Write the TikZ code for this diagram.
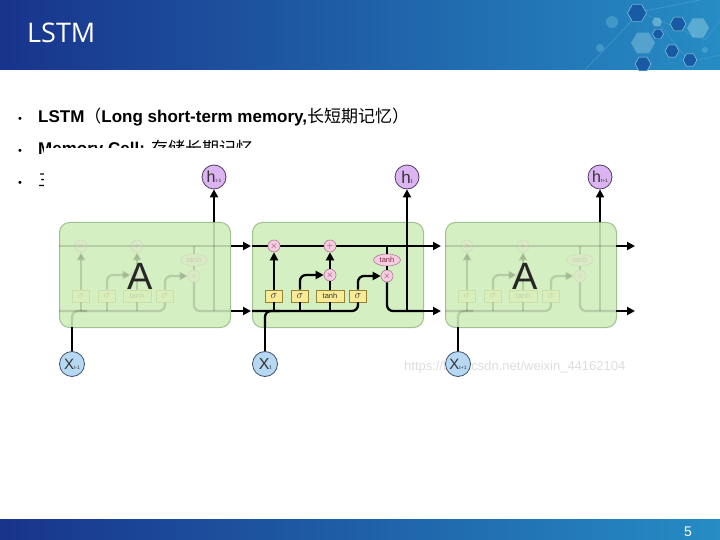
\documentclass[tikz,border=0pt]{standalone}
\usepackage{fontspec}
\setmainfont{Liberation Sans}
\newfontfamily\cjk{Noto Sans CJK SC}
\newfontfamily\titlefont{Open Sans}
\usetikzlibrary{arrows.meta,shapes.geometric}

\definecolor{hdrL}{RGB}{24,52,140}
\definecolor{hdrM}{RGB}{16,74,158}
\definecolor{hdrR}{RGB}{38,140,196}
\definecolor{cellfill}{RGB}{212,239,194}
\definecolor{cellbd}{RGB}{160,192,145}
\definecolor{gatefill}{RGB}{250,236,150}
\definecolor{gatebd}{RGB}{150,130,50}
\definecolor{opfill}{RGB}{245,205,225}
\definecolor{opbd}{RGB}{180,120,150}
\definecolor{opsym}{RGB}{140,40,70}
\definecolor{hfill}{RGB}{220,180,242}
\definecolor{hbd}{RGB}{80,60,95}
\definecolor{xfill}{RGB}{182,216,242}
\definecolor{xbd}{RGB}{60,80,105}
\definecolor{wm}{RGB}{222,222,222}
\definecolor{hexlite}{RGB}{120,200,220}
\definecolor{hexdark}{RGB}{25,90,165}

\tikzset{
  wire/.style={line width=2.3pt, black},
  arrowln/.style={line width=2.3pt, black, -{Triangle[length=8pt,width=8pt]}},
  cellbox/.style={draw=cellbd, fill=cellfill, line width=1pt, rounded corners=10pt,
    minimum width=171pt, minimum height=105pt, anchor=north west, inner sep=0pt},
  opnode/.style={circle, draw=opbd, fill=opfill, line width=0.6pt, minimum size=12pt,
    inner sep=0pt, text=opsym, font=\fontsize{9}{9}\selectfont},
  thnode/.style={ellipse, draw=opbd, fill=opfill, line width=0.6pt, minimum width=27pt,
    minimum height=12pt, inner sep=0pt, text=opsym, font=\fontsize{7.5}{7.5}\selectfont},
  gatebox/.style={rectangle, draw=gatebd, fill=gatefill, line width=0.6pt, minimum width=17pt,
    minimum height=12pt, inner sep=0pt, text=black!80, font=\fontsize{11}{11}\selectfont},
  hnode/.style={circle, draw=hbd, fill=hfill, line width=0.8pt, minimum size=24pt, inner sep=0pt, text=black!80},
  xnode/.style={circle, draw=xbd, fill=xfill, line width=0.8pt, minimum size=25pt, inner sep=0pt, text=black!80},
  bigA/.style={font=\fontsize{38}{38}\selectfont, text=black!85},
  bullettext/.style={anchor=base west, inner sep=0pt, font=\fontsize{17}{20}\selectfont},
  bulletdot/.style={anchor=base, inner sep=0pt, font=\fontsize{11}{11}\selectfont},
  hexa/.style={regular polygon, regular polygon sides=6, inner sep=0pt},
}

\newcommand{\lstmcore}[2]{%
 \begin{scope}[shift={(#1,0)}]
  \draw[wire] (0,246) -- (171,246);
  \node[opnode] (#2fx) at (22,246) {$\times$};
  \node[opnode] (#2pl) at (78,246) {$+$};
  \node[opnode] (#2ix) at (78,275) {$\times$};
  \node[thnode] (#2th) at (135,260) {tanh};
  \node[opnode] (#2ox) at (135,276) {$\times$};
  \node[gatebox] (#2ga) at (22,296) {$\sigma$};
  \node[gatebox] (#2gb) at (48,296) {$\sigma$};
  \node[gatebox, minimum width=28pt, font=\fontsize{7.5}{7.5}\selectfont] (#2gc) at (78,296) {tanh};
  \node[gatebox] (#2gd) at (106,296) {$\sigma$};
  \coordinate (#2hin) at (0,311);
  \coordinate (#2hga) at (22,311);
  \coordinate (#2hgb) at (48,311);
  \coordinate (#2hgc) at (78,311);
  \coordinate (#2hgd) at (106,311);
  \coordinate (#2bgb) at (48,275);
  \coordinate (#2bgd) at (106,276);
  \coordinate (#2ctop) at (135,246);
  \coordinate (#2obend) at (135,311);
  \coordinate (#2hout) at (171,311);
  \coordinate (#2vlow) at (155,311);
  \coordinate (#2vtop) at (155,222);
  \coordinate (#2xin) at (13,327);
  \coordinate (#2xbend) at (13,311);
  \coordinate (#2xjoin) at (28,311);
  \draw[wire, rounded corners=6pt] (#2hin) -- (#2hgd) -- (#2gd.south);
  \draw[wire] (#2hga) -- (#2ga.south);
  \draw[wire] (#2hgb) -- (#2gb.south);
  \draw[wire] (#2hgc) -- (#2gc.south);
  \draw[arrowln] (#2ga.north) -- (#2fx.south);
  \draw[arrowln, rounded corners=6pt] (#2gb.north) -- (#2bgb) -- (#2ix.west);
  \draw[wire] (#2gc.north) -- (#2ix.south);
  \draw[arrowln] (#2ix.north) -- (#2pl.south);
  \draw[arrowln, rounded corners=6pt] (#2gd.north) -- (#2bgd) -- (#2ox.west);
  \draw[wire] (#2ctop) -- (#2th.north);
  \draw[wire] (#2th.south) -- (#2ox.north);
  \draw[wire, rounded corners=6pt] (#2ox.south) -- (#2obend) -- (#2hout);
  \draw[wire] (#2vlow) -- (#2vtop);
  \draw[wire, rounded corners=6pt] (#2xin) -- (#2xbend) -- (#2xjoin);
 \end{scope}}

\begin{document}
\begin{tikzpicture}[x=1pt,y=-1pt]
\useasboundingbox (0,0) rectangle (720,540);
\fill[white] (0,0) rectangle (720,540);

% header band
\shade[left color=hdrL, middle color=hdrM, right color=hdrR] (0,0) rectangle (720,70);
\begin{scope}[opacity=0.35]
  \draw[hexlite, line width=0.6pt] (585,70) -- (640,12) -- (700,0);
  \draw[hexlite, line width=0.4pt] (640,12) -- (705,40) -- (720,20);
  \draw[hexlite, line width=0.4pt] (660,25) -- (690,62) -- (720,55);
  \fill[hexlite] (612,22) circle (6pt) (600,48) circle (4pt) (705,50) circle (3pt);
\end{scope}
\node[hexa, fill=hexdark, draw=hexlite!70, minimum size=19pt] (hexa1) at (637,13) {};
\node[hexa, fill=hexlite!70!white, opacity=0.5, minimum size=10pt] (hexa2) at (657,22) {};
\node[hexa, fill=hexdark, draw=hexlite!70, minimum size=16pt] (hexa3) at (678,24) {};
\node[hexa, fill=hexlite!60!white, opacity=0.4, minimum size=22pt] (hexa4) at (698,28) {};
\node[hexa, fill=hexdark, draw=hexlite!70, minimum size=11pt] (hexa5) at (658,34) {};
\node[hexa, fill=hexlite!60!white, opacity=0.35, minimum size=24pt] (hexa6) at (643,43) {};
\node[hexa, fill=hexdark, draw=hexlite!70, minimum size=14pt] (hexa7) at (672,51) {};
\node[hexa, fill=hexdark, draw=hexlite!70, minimum size=16pt] (hexa8) at (643,64) {};
\node[hexa, fill=hexdark, draw=hexlite!70, minimum size=14pt] (hexa9) at (690,60) {};
\node[anchor=base west, inner sep=0pt, text=white, font=\titlefont\fontsize{27}{27}\selectfont] (title) at (27,43) {LSTM};

% footer band
\shade[left color=hdrL, middle color=hdrM, right color=hdrR] (0,519) rectangle (720,540);
\node[anchor=base, inner sep=0pt, text=white, font=\fontsize{14}{14}\selectfont] (pagenum) at (688,536) {5};

% bullets
\node[bulletdot] (b1) at (20,123) {•};
\node[bullettext] (t1) at (38,123) {{\bfseries LSTM}{\cjk （}{\bfseries Long short-term memory,}{\cjk 长短期记忆）}};
\node[bulletdot] (b2) at (20,155) {•};
\node[bullettext] (t2) at (38,155) {{\bfseries Memory Cell:} {\cjk 存储长期记忆}};
\node[bulletdot] (b3) at (20,187) {•};
\node[bullettext] (t3) at (38,187) {{\cjk 三}};

% white image area covering text
\fill[white] (44,148) rectangle (640,388);

% watermark
\node[anchor=base west, inner sep=0pt, text=wm, font=\fontsize{13}{13}\selectfont] (wmark) at (404,370) {https://blog.csdn.net/weixin\_44162104};

% cells
\node[cellbox] (cellL) at (59,222) {};
\node[cellbox] (cellM) at (252,222) {};
\node[cellbox] (cellR) at (445,222) {};

\begin{scope}[opacity=0.14]
  \lstmcore{59}{L}
\end{scope}
\lstmcore{252}{M}
\begin{scope}[opacity=0.14]
  \lstmcore{445}{R}
\end{scope}

\node[bigA] (AL) at (140,276) {A};
\node[bigA] (AR) at (525,276) {A};

% inputs and outputs
\node[hnode] (h1) at (214,177) {{\fontsize{16}{16}\selectfont h}{\fontsize{5}{5}\selectfont t-1}};
\node[hnode] (h2) at (407,177) {{\fontsize{17}{17}\selectfont h}{\fontsize{6}{6}\selectfont t}};
\node[hnode] (h3) at (600,177) {{\fontsize{16}{16}\selectfont h}{\fontsize{5}{5}\selectfont t+1}};
\node[xnode] (x1) at (72,364) {{\fontsize{15}{15}\selectfont X}{\fontsize{5}{5}\selectfont t-1}};
\node[xnode] (x2) at (265,364) {{\fontsize{16}{16}\selectfont X}{\fontsize{6}{6}\selectfont t}};
\node[xnode] (x3) at (458,364) {{\fontsize{15}{15}\selectfont X}{\fontsize{5}{5}\selectfont t+1}};

\draw[arrowln] (Lvtop) -- (h1.south);
\draw[arrowln] (Mvtop) -- (h2.south);
\draw[arrowln] (Rvtop) -- (h3.south);
\draw[wire] (x1.north) -- (Lxin);
\draw[wire] (x2.north) -- (Mxin);
\draw[wire] (x3.north) -- (Rxin);

% connections between cells
\coordinate (cL1) at (231,246);
\coordinate (cL2) at (231,311);
\coordinate (tM1) at (251,246);
\coordinate (tM2) at (251,311);
\coordinate (cM1) at (423,246);
\coordinate (cM2) at (423,311);
\coordinate (tR1) at (441,246);
\coordinate (tR2) at (441,311);
\coordinate (cR1) at (616,246);
\coordinate (cR2) at (616,311);
\coordinate (tO1) at (635,246);
\coordinate (tO2) at (635,311);
\draw[arrowln] (cL1) -- (tM1);
\draw[arrowln] (cL2) -- (tM2);
\draw[arrowln] (cM1) -- (tR1);
\draw[arrowln] (cM2) -- (tR2);
\draw[arrowln] (cR1) -- (tO1);
\draw[arrowln] (cR2) -- (tO2);
\end{tikzpicture}
\end{document}
